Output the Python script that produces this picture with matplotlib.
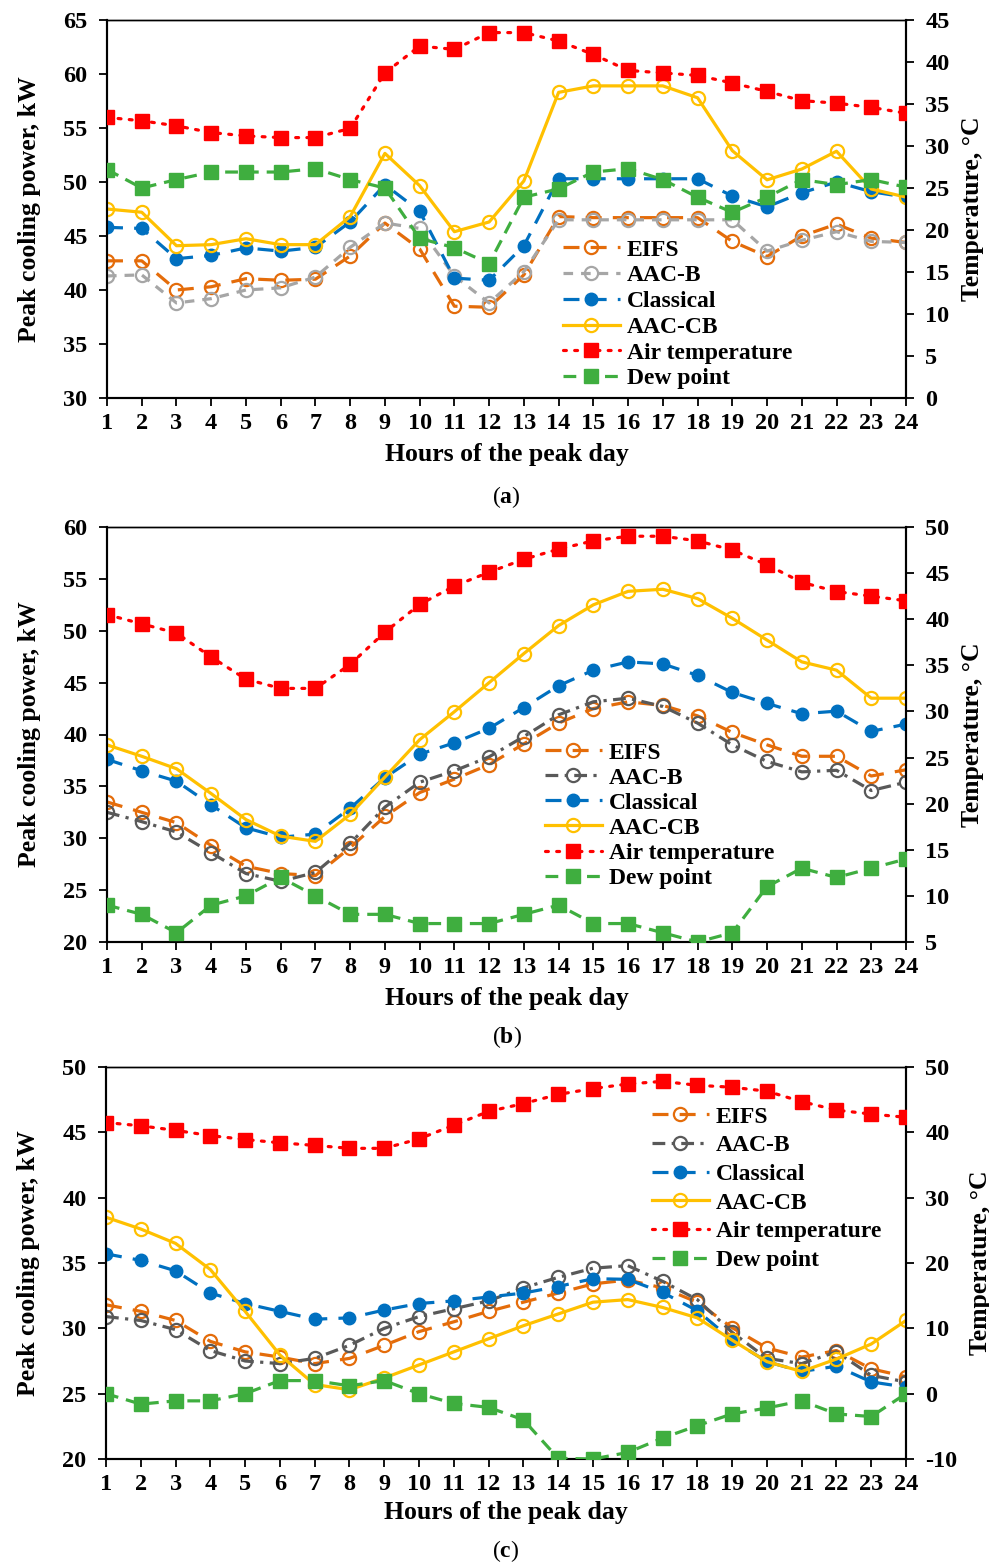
import matplotlib
matplotlib.use("Agg")
import matplotlib.pyplot as plt

plt.rcParams['font.family'] = ['Liberation Serif', 'DejaVu Serif']
plt.rcParams['font.weight'] = 'bold'
plt.rcParams['mathtext.fontset'] = 'custom'
plt.rcParams['mathtext.rm'] = 'Liberation Serif'
plt.rcParams['mathtext.bf'] = 'Liberation Serif:bold'
plt.rcParams['axes.unicode_minus'] = False

hours = list(range(1, 25))
series_names = ["EIFS", "AAC-B", "Classical", "AAC-CB", "Air temperature", "Dew point"]

# Panel (a)
a_eifs = [42.7, 42.7, 40.0, 40.3, 41.05, 40.9, 41.0, 43.15, 46.2, 43.8, 38.5, 38.4,
          41.4, 46.8, 46.7, 46.7, 46.7, 46.7, 44.5, 43.1, 45.0, 46.1, 44.8, 44.4]
a_aacb = [41.3, 41.4, 38.8, 39.2, 40.0, 40.2, 41.2, 43.95, 46.2, 45.7, 41.3, 38.8,
          41.7, 46.5, 46.5, 46.5, 46.5, 46.5, 46.5, 43.6, 44.6, 45.4, 44.5, 44.4]
a_classical = [45.8, 45.7, 42.9, 43.2, 43.9, 43.6, 43.95, 46.3, 49.75, 47.3, 41.1, 40.9,
               44.1, 50.3, 50.3, 50.3, 50.3, 50.3, 48.7, 47.7, 49.0, 50.0, 49.1, 48.6]
a_aaccb = [47.5, 47.2, 44.1, 44.2, 44.75, 44.2, 44.2, 46.8, 52.65, 49.66, 45.4, 46.3,
           50.1, 58.3, 58.9, 58.9, 58.9, 57.8, 52.9, 50.2, 51.2, 52.85, 49.35, 48.6]
a_air = [33.4, 33.0, 32.4, 31.6, 31.2, 31.0, 31.0, 32.1, 38.7, 41.9, 41.5, 43.5,
         43.5, 42.5, 40.9, 39.0, 38.7, 38.4, 37.5, 36.5, 35.4, 35.1, 34.6, 33.9]
a_dew = [27.2, 25.0, 26.0, 26.9, 26.9, 26.9, 27.3, 26.0, 25.0, 19.0, 17.9, 16.0,
         23.9, 24.9, 26.9, 27.3, 26.0, 23.9, 22.1, 23.9, 26.0, 25.4, 26.0, 25.1]

# Panel (b)
b_eifs = [33.5, 32.5, 31.5, 29.3, 27.3, 26.6, 26.4, 29.1, 32.1, 34.4, 35.7, 37.1,
          39.1, 41.1, 42.5, 43.15, 42.8, 41.8, 40.2, 39.0, 37.9, 37.9, 36.0, 36.6]
b_aacb = [32.5, 31.6, 30.6, 28.6, 26.6, 25.85, 26.7, 29.5, 33.0, 35.4, 36.5, 37.85,
          39.8, 41.9, 43.15, 43.5, 42.7, 41.1, 39.0, 37.4, 36.4, 36.55, 34.6, 35.4]
b_classical = [37.6, 36.5, 35.5, 33.2, 31.0, 30.1, 30.4, 32.9, 35.85, 38.1, 39.2, 40.6,
               42.6, 44.7, 46.2, 47.0, 46.8, 45.7, 44.05, 43.0, 42.0, 42.25, 40.3, 41.0]
b_aaccb = [39.0, 37.9, 36.7, 34.3, 31.8, 30.2, 29.7, 32.3, 35.9, 39.5, 42.2, 45.0,
           47.8, 50.5, 52.5, 53.8, 54.0, 53.1, 51.2, 49.1, 47.0, 46.2, 43.5, 43.5]
b_air = [40.5, 39.5, 38.5, 35.9, 33.5, 32.5, 32.5, 35.1, 38.6, 41.6, 43.6, 45.1,
         46.5, 47.6, 48.5, 49.0, 49.0, 48.5, 47.5, 45.9, 44.0, 43.0, 42.5, 42.0]
b_dew = [9, 8, 6, 9, 10, 12, 10, 8, 8, 7, 7, 7,
         8, 9, 7, 7, 6, 5, 6, 11, 13, 12, 13, 14]

# Panel (c)
c_eifs = [31.8, 31.3, 30.6, 29.0, 28.2, 27.8, 27.3, 27.7, 28.7, 29.75, 30.5, 31.3,
          32.0, 32.7, 33.4, 33.7, 33.1, 32.0, 30.05, 28.5, 27.8, 28.3, 26.9, 26.3]
c_aacb = [30.9, 30.6, 29.9, 28.3, 27.5, 27.3, 27.7, 28.7, 30.0, 30.9, 31.5, 32.1,
          33.1, 33.9, 34.6, 34.8, 33.6, 32.2, 29.7, 27.7, 27.3, 28.2, 26.4, 25.9]
c_classical = [35.7, 35.2, 34.4, 32.7, 31.9, 31.3, 30.7, 30.8, 31.4, 31.9, 32.1, 32.4,
               32.7, 33.2, 33.8, 33.75, 32.75, 31.35, 29.1, 27.45, 26.7, 27.1, 25.9, 25.5]
c_aaccb = [38.5, 37.6, 36.5, 34.5, 31.3, 27.96, 25.7, 25.3, 26.2, 27.2, 28.2, 29.2,
           30.2, 31.1, 32.0, 32.2, 31.6, 30.8, 29.1, 27.45, 26.7, 27.65, 28.8, 30.6]
c_air = [41.5, 41.0, 40.3, 39.5, 38.9, 38.4, 38.0, 37.55, 37.55, 39.0, 41.1, 43.2,
         44.4, 45.8, 46.7, 47.4, 47.8, 47.2, 46.9, 46.3, 44.7, 43.4, 42.8, 42.3]
c_dew = [0, -1.6, -1.1, -1.1, 0, 2, 2, 1.2, 2, 0, -1.5, -2.1,
         -4.0, -9.9, -10, -9.0, -6.8, -4.9, -3.1, -2.2, -1.1, -3.1, -3.5, 0]

ORANGE = '#E46C0A'
GRAY_A = '#A6A6A6'
GRAY_D = '#595959'
BLUE = '#0070C0'
YELLOW = '#FFC000'
RED = '#FF0000'
GREEN = '#3FAE3F'

FS_TICK = 17.5
FS_LABEL = 18.5
FS_LEG = 17

fig = plt.figure(figsize=(9.89, 15.66), dpi=100)
W, H = 989.0, 1566.0


def frac_rect(x0, y_top, x1, y_bot):
    return [x0 / W, 1 - y_bot / H, (x1 - x0) / W, (y_bot - y_top) / H]


def panel(rect, kw, temp, ylim, yticks, tlim, tticks, aacb_color, aacb_dash,
          leg_anchor, leg_spacing, caption, caption_y, xlabel_y):
    ax = fig.add_axes(rect)
    ax2 = ax.twinx()
    lw = 2.3
    eifs, aacb, classical, aaccb = kw
    air, dew = temp
    h = []
    h += ax.plot(hours, eifs, color=ORANGE, lw=lw, dashes=(5, 3.5), marker='o', ms=9.5,
                 mfc='none', mec=ORANGE, mew=1.6, label=series_names[0], zorder=3)
    h += ax.plot(hours, aacb, color=aacb_color, lw=lw, dashes=aacb_dash, marker='o', ms=9.5,
                 mfc='none', mec=aacb_color, mew=1.6, label=series_names[1], zorder=3)
    h += ax.plot(hours, classical, color=BLUE, lw=lw, dashes=(5, 3.5), marker='o', ms=9,
                 mfc=BLUE, mec=BLUE, label=series_names[2], zorder=4)
    h += ax.plot(hours, aaccb, color=YELLOW, lw=lw, ls='-', marker='o', ms=9.5,
                 mfc='none', mec=YELLOW, mew=1.6, label=series_names[3], zorder=5)
    h += ax2.plot(hours, air, color=RED, lw=lw, dashes=(0.9, 2.6), dash_capstyle='round',
                  marker='s', ms=10, mfc=RED, mec=RED, label=series_names[4], zorder=3)
    h += ax2.plot(hours, dew, color=GREEN, lw=lw, dashes=(4, 2.5), marker='s', ms=10,
                  mfc=GREEN, mec=GREEN, label=series_names[5], zorder=3)

    ax.set_xlim(1, 24)
    ax.set_ylim(*ylim)
    ax.set_yticks(yticks)
    ax2.set_ylim(*tlim)
    ax2.set_yticks(tticks)
    ax.set_xticks(hours)

    for a in (ax, ax2):
        for s in a.spines.values():
            s.set_linewidth(1.5)
            s.set_color('black')
        a.spines['top'].set_linewidth(1.0)
        a.tick_params(direction='out', width=1.3, length=6, labelsize=FS_TICK)
        for lab in a.get_xticklabels() + a.get_yticklabels():
            lab.set_fontweight('bold')
    ax.tick_params(axis='x', pad=5)
    ax.tick_params(axis='y', pad=8)
    ax2.tick_params(axis='y', pad=8)

    ax.set_ylabel('Peak cooling power, kW', fontsize=FS_LABEL, fontweight='bold', labelpad=16)
    ax2.set_ylabel('Temperature, °C', fontsize=FS_LABEL, fontweight='bold', labelpad=8)
    fig.text((rect[0] + rect[2] / 2), 1 - xlabel_y / H, 'Hours of the peak day',
             ha='center', va='center', fontsize=FS_LABEL, fontweight='bold')
    fig.text((rect[0] + rect[2] / 2), 1 - caption_y / H, caption,
             ha='center', va='center', fontsize=17, fontweight='normal')

    ax2.legend(handles=h, loc='upper left',
               bbox_to_anchor=(leg_anchor[0] / W, 1 - leg_anchor[1] / H),
               bbox_transform=fig.transFigure, frameon=False,
               prop={'family': 'Liberation Serif', 'weight': 'bold', 'size': FS_LEG},
               handlelength=2.4, handletextpad=0.3, labelspacing=leg_spacing,
               borderpad=0, borderaxespad=0, numpoints=1)
    return ax, ax2


panel(frac_rect(107, 20, 906, 398),
      (a_eifs, a_aacb, a_classical, a_aaccb), (a_air, a_dew),
      (30, 65), list(range(30, 66, 5)), (0, 45), list(range(0, 46, 5)),
      GRAY_A, (3, 2.5), (563, 239), 0.18, r'($\mathbf{a}$)', 497, 454)

panel(frac_rect(107, 527, 906, 942),
      (b_eifs, b_aacb, b_classical, b_aaccb), (b_air, b_dew),
      (20, 60), list(range(20, 61, 5)), (5, 50), list(range(5, 51, 5)),
      GRAY_D, (4, 2, 1, 2), (545, 742), 0.15, r'($\mathbf{b}$)', 1037, 998)

panel(frac_rect(106, 1067, 906, 1459),
      (c_eifs, c_aacb, c_classical, c_aaccb), (c_air, c_dew),
      (20, 50), list(range(20, 51, 5)), (-10, 50), list(range(-10, 51, 10)),
      GRAY_D, (4, 2, 1, 2), (652, 1106), 0.305, r'($\mathbf{c}$)', 1551, 1513)

fig.savefig('out.png', dpi=100)
